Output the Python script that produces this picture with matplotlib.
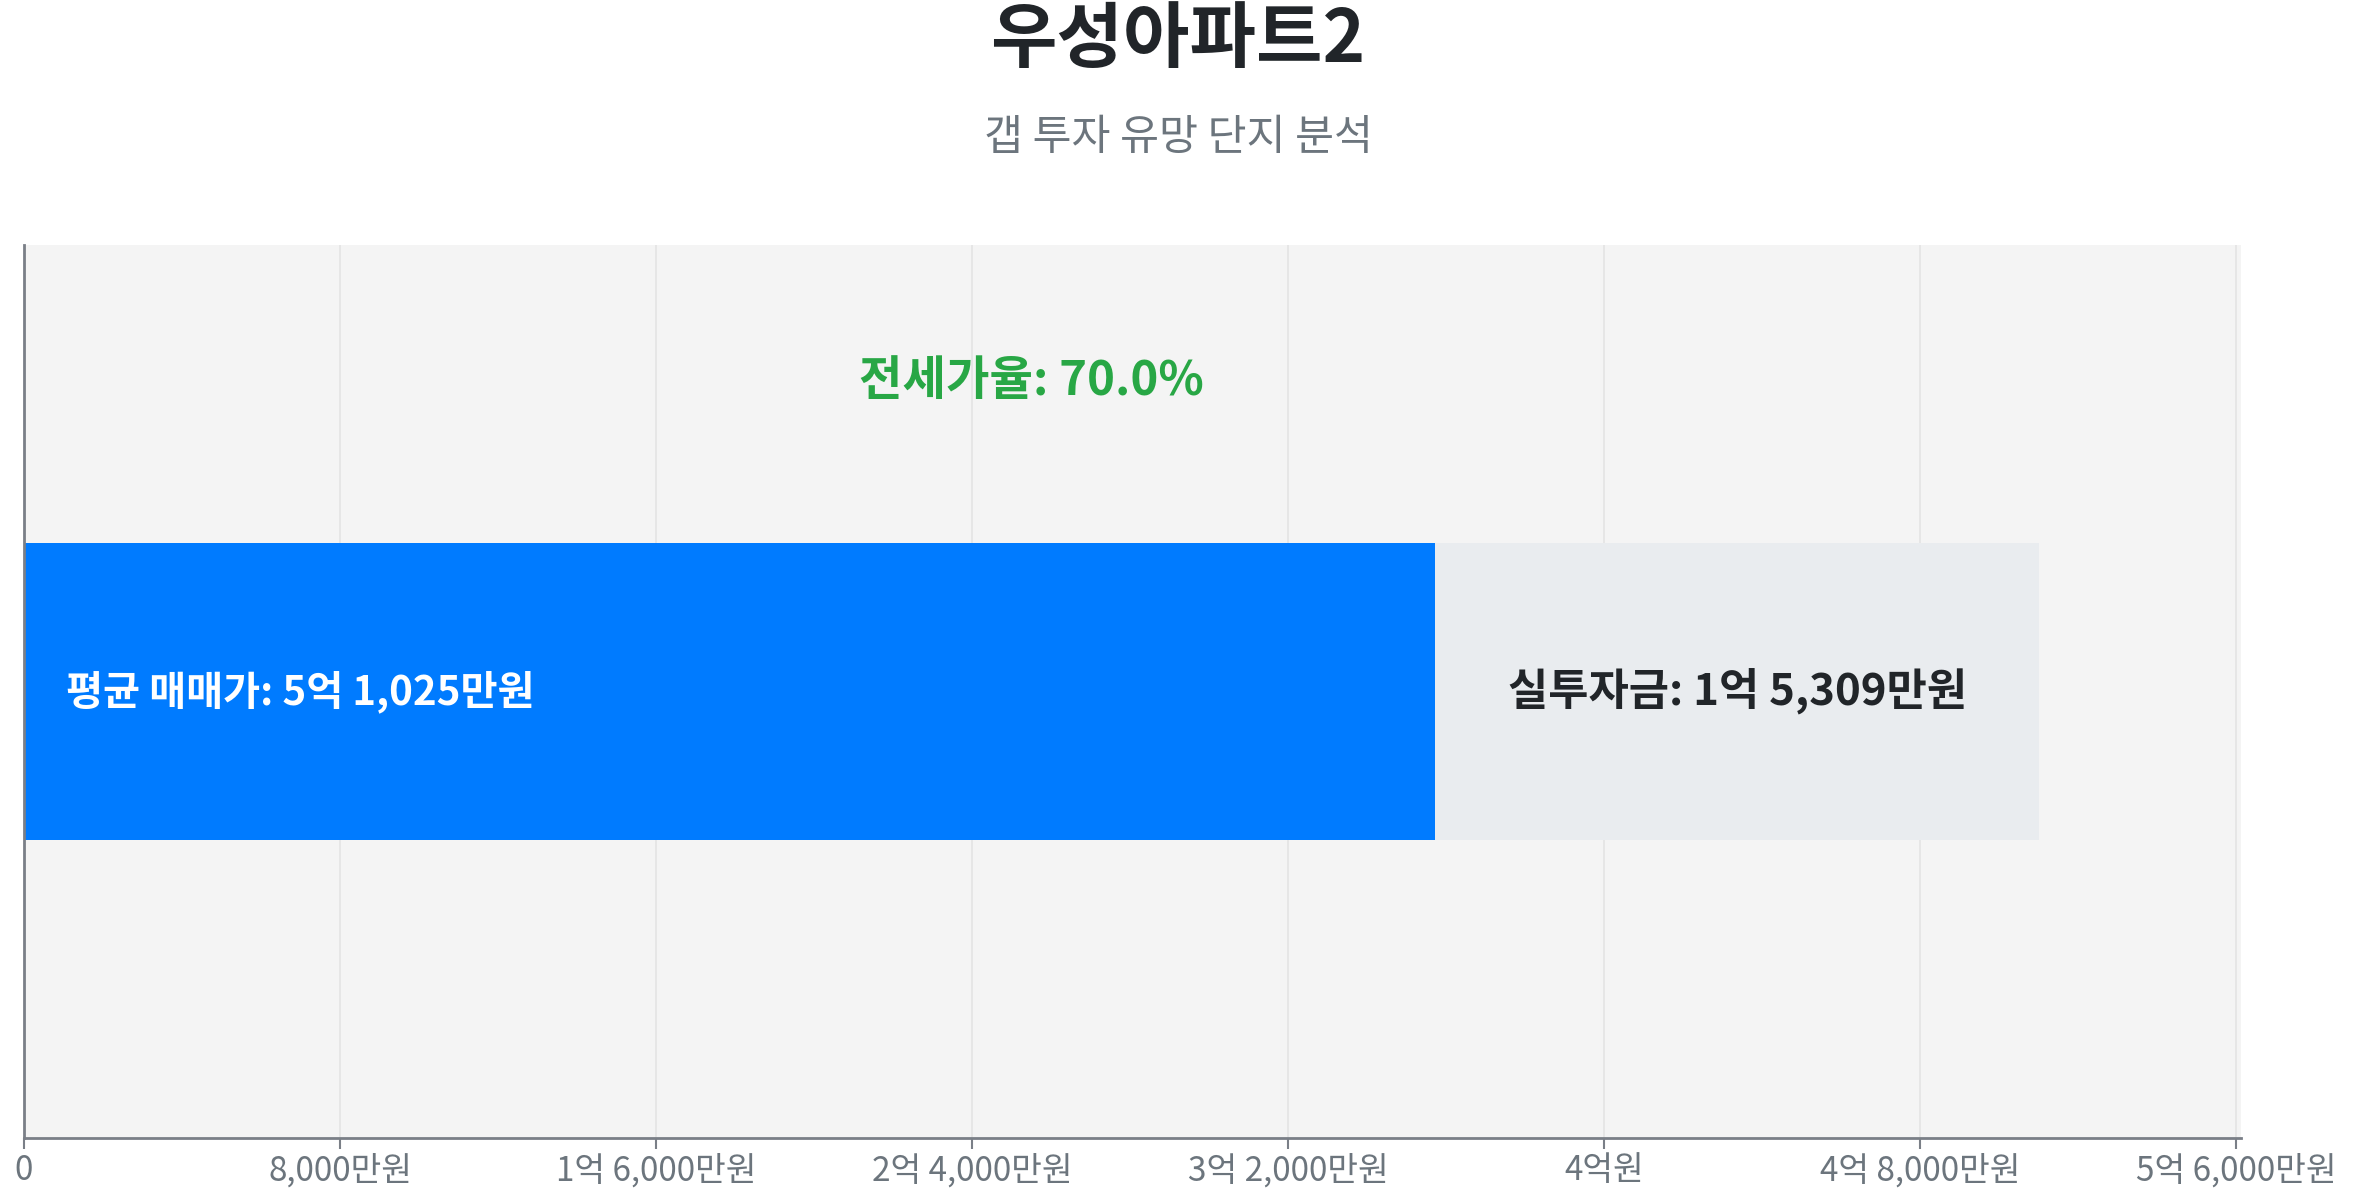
import matplotlib
matplotlib.use("Agg")
import matplotlib.pyplot as plt
from matplotlib.ticker import MultipleLocator, FuncFormatter

plt.rcParams['font.family'] = ['Noto Sans CJK KR', 'DejaVu Sans']

# Data (만원)
complex_name = "우성아파트2"
subtitle = "갭 투자 유망 단지 분석"
avg_price = 51025
jeonse_price = 35716
gap_investment = 15309
jeonse_ratio = 70.0

def fmt_manwon(v):
    v = int(round(v))
    if v == 0:
        return "0"
    eok, man = divmod(v, 10000)
    if eok and man:
        return f"{eok}억 {man:,}만원"
    if eok:
        return f"{eok}억원"
    return f"{man:,}만원"

fig = plt.figure(figsize=(23.56, 12), dpi=100)
ax = fig.add_axes([24/2356, 1 - 1138/1200, (2241-24)/2356, (1138-245)/1200])
ax.set_facecolor('#f4f4f4')

bar_h = 1/3
ax.barh([0], [jeonse_price], height=bar_h, color='#007bff', zorder=2)
ax.barh([0], [avg_price - jeonse_price], left=[jeonse_price], height=bar_h, color='#e9ecef', zorder=2)

ax.set_xlim(0, avg_price * 1.1)
ax.set_ylim(-0.5, 0.5)
ax.xaxis.set_major_locator(MultipleLocator(8000))
ax.xaxis.set_major_formatter(FuncFormatter(lambda v, p: fmt_manwon(v)))
ax.set_yticks([])
ax.grid(axis='x', color='#e4e4e4', linewidth=1.2, zorder=0)
ax.set_axisbelow(True)

for s in ['top', 'right']:
    ax.spines[s].set_visible(False)
for s in ['left', 'bottom']:
    ax.spines[s].set_color('#7a7f87')
    ax.spines[s].set_linewidth(2)
ax.tick_params(axis='x', colors='#7a7f87', labelcolor='#6c757d', labelsize=24,
               length=8, width=1.5, pad=3)

ax.annotate(f"평균 매매가: {fmt_manwon(avg_price)}", xy=(0, 0), xytext=(30, 0),
            textcoords='offset points', color='white', fontsize=29, fontweight='bold',
            va='center', ha='left', zorder=3)
ax.text(jeonse_price + (avg_price - jeonse_price) / 2, 0, f"실투자금: {fmt_manwon(gap_investment)}",
        color='#212529', fontsize=31.5, fontweight='bold', va='center', ha='center', zorder=3)
ax.text(avg_price / 2, 0.348, f"전세가율: {jeonse_ratio:.1f}%",
        color='#28a745', fontsize=34, fontweight='bold', va='center', ha='center', zorder=3)

fig.text(0.5, 1 - 41/1200, complex_name, ha='center', va='center', fontsize=52,
         fontweight='bold', color='#212529')
fig.text(0.5, 1 - 138/1200, subtitle, ha='center', va='center', fontsize=30.5,
         color='#6c757d')

fig.savefig('out.png', dpi=100)
